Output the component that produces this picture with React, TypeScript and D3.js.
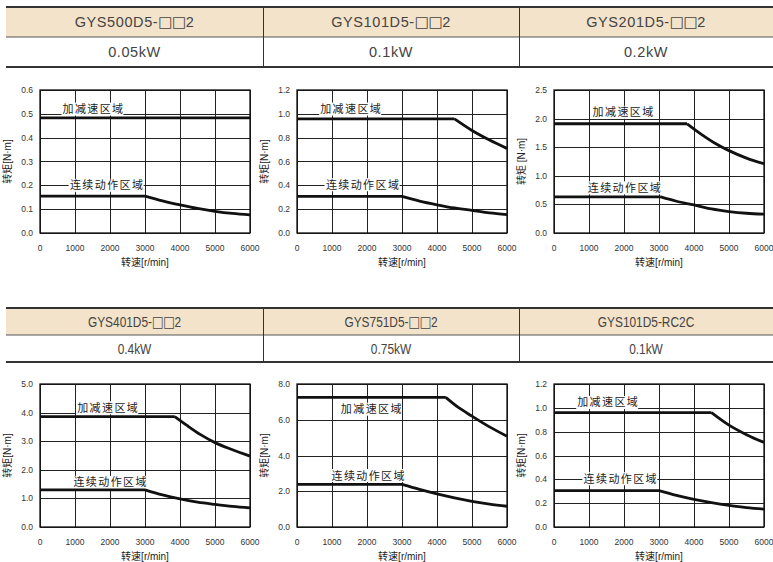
import React from "react";
import * as d3 from "d3";

// header texts
const models = ["GYS500D5-□□2", "GYS101D5-□□2", "GYS201D5-□□2", "GYS401D5-□□2", "GYS751D5-□□2", "GYS101D5-RC2C"];
const powers = ["0.05kW", "0.1kW", "0.2kW", "0.4kW", "0.75kW", "0.1kW"];

// y axis range / tick step per chart
const yMaxes = [0.6, 1.2, 2.5, 5, 8, 1.2];
const ySteps = [0.1, 0.2, 0.5, 1, 2, 0.2];
const yUnits = ["[N·m]", "[N·m]", " [N·m]", "[N·m]", "[N·m]", "[N·m]"];
const xTicks = [0, 1000, 2000, 3000, 4000, 5000, 6000];

// [rpm, torque] — acceleration / deceleration zone
const accel = [
  [[0, 0.483], [6000, 0.483]],
  [[0, 0.957], [4500, 0.957], [5000, 0.86], [5500, 0.78], [6000, 0.71]],
  [[0, 1.91], [3800, 1.91], [4200, 1.73], [4600, 1.57], [5000, 1.44], [5500, 1.31], [6000, 1.21]],
  [[0, 3.86], [3850, 3.86], [4200, 3.55], [4600, 3.22], [5000, 2.95], [5500, 2.7], [6000, 2.48]],
  [[0, 7.25], [4250, 7.25], [4600, 6.7], [5000, 6.2], [5500, 5.6], [6000, 5.08]],
  [[0, 0.96], [4500, 0.96], [5000, 0.855], [5500, 0.775], [6000, 0.71]],
];

// [rpm, torque] — continuous operation zone
const cont = [
  [[0, 0.155], [3000, 0.155], [3500, 0.135], [4000, 0.118], [4500, 0.103], [5000, 0.091], [5500, 0.082], [6000, 0.076]],
  [[0, 0.307], [3000, 0.307], [3500, 0.268], [4000, 0.237], [4500, 0.21], [5000, 0.19], [5500, 0.168], [6000, 0.155]],
  [[0, 0.63], [3050, 0.63], [3500, 0.555], [4000, 0.49], [4500, 0.42], [5000, 0.375], [5500, 0.345], [6000, 0.33]],
  [[0, 1.3], [3000, 1.3], [3500, 1.12], [4000, 0.98], [4500, 0.87], [5000, 0.79], [5500, 0.72], [6000, 0.67]],
  [[0, 2.38], [3000, 2.38], [3500, 2.1], [4000, 1.85], [4500, 1.63], [5000, 1.44], [5500, 1.28], [6000, 1.16]],
  [[0, 0.305], [3000, 0.305], [3500, 0.265], [4000, 0.232], [4500, 0.205], [5000, 0.182], [5500, 0.163], [6000, 0.15]],
];

// label anchor [rpm, torque]
const accelLabelAt = [[1500, 0.52], [1520, 1.04], [1960, 2.11], [1920, 4.17], [2110, 6.59], [1520, 1.045]];
const contLabelAt = [[1890, 0.2], [1860, 0.405], [2000, 0.79], [1990, 1.56], [2020, 2.88], [1880, 0.405]];

const accelLabel = "加减速区域";
const contLabel = "连续动作区域";

const colX = [[40, 250], [297, 507], [554, 764]];
const rowY = [[90, 233], [384, 527]];
const headerTop = [7, 308];
const headerMid = [37, 335];
const headerBot = [67, 362];
const cellEdges = [6, 263, 519, 773];

const FONT = "'Liberation Sans', Arial, sans-serif";
const CJK = "'Noto Sans CJK SC', sans-serif";

const line = d3.line().x((d) => d[0]).y((d) => d[1]);

// text with □ drawn in DejaVu so the boxes are full size
const ModelText = ({ s }) => {
  const parts = s.split(/(□+)/);
  return (
    <>
      {parts.map((p, k) =>
        p.startsWith("□") ? (
          <tspan key={k} fontFamily="'DejaVu Sans'" fontSize={15} letterSpacing={-0.5}>
            {p}
          </tspan>
        ) : (
          <tspan key={k}>{p}</tspan>
        )
      )}
    </>
  );
};

const Chart = ({ i }) => {
  const [x0, x1] = colX[i % 3];
  const [y0, y1] = rowY[Math.floor(i / 3)];
  const x = d3.scaleLinear().domain([0, 6000]).range([x0, x1]);
  const y = d3.scaleLinear().domain([0, yMaxes[i]]).range([y1, y0]);
  const yTicks = d3.range(0, yMaxes[i] + ySteps[i] / 2, ySteps[i]);
  const fmt = d3.format(".1f");

  const curve = (pts) => {
    const p = pts.map((d) => [x(d[0]), y(d[1])]);
    // flat part straight, falling part smoothed
    const flat = line(p.slice(0, 2));
    const fall = p.length > 2 ? d3.line().curve(d3.curveMonotoneX)(p.slice(1)) : "";
    return flat + (fall ? fall : "");
  };

  const label = (text, at, w) => {
    const cx = x(at[0]);
    const cy = y(at[1]);
    return (
      <g>
        <rect x={cx - w / 2 - 1} y={cy - 6.5} width={w + 2} height={13} fill="#fff" />
        <text x={cx + 1} y={cy + 4} textAnchor="middle" fontSize={11} letterSpacing={1.4} fontFamily={CJK} fill="#222">
          {text}
        </text>
      </g>
    );
  };

  return (
    <g>
      {yTicks.map((t) => (
        <line key={"h" + t} x1={x0} x2={x1} y1={Math.round(y(t)) + 0.5} y2={Math.round(y(t)) + 0.5} stroke="#222" strokeWidth={1} />
      ))}
      {xTicks.map((t) => (
        <line key={"v" + t} x1={Math.round(x(t)) + 0.5} x2={Math.round(x(t)) + 0.5} y1={y0} y2={y1} stroke="#222" strokeWidth={1} />
      ))}
      {label(accelLabel, accelLabelAt[i], 60)}
      {label(contLabel, contLabelAt[i], 73)}
      <rect x={x0} y={y0} width={x1 - x0} height={y1 - y0} fill="none" stroke="#111" strokeWidth={1.3} />
      <path d={curve(accel[i])} fill="none" stroke="#111" strokeWidth={2.8} />
      <path d={curve(cont[i])} fill="none" stroke="#111" strokeWidth={2.8} />
      {yTicks.map((t) => (
        <text key={"yl" + t} x={x0 - 7} y={y(t) + 3} textAnchor="end" fontSize={8.5} fontFamily={FONT} fill="#333">
          {fmt(t)}
        </text>
      ))}
      {xTicks.map((t) => (
        <text key={"xl" + t} x={x(t)} y={y1 + 18} textAnchor="middle" fontSize={8.5} fontFamily={FONT} fill="#333">
          {t}
        </text>
      ))}
      <text x={(x0 + x1) / 2} y={y1 + 33} textAnchor="middle" fontSize={10} fill="#222">
        <tspan fontFamily={CJK}>转速</tspan>
        <tspan fontFamily={FONT}>[r/min]</tspan>
      </text>
      <text
        transform={`translate(${x0 - 29},${(y0 + y1) / 2}) rotate(-90)`}
        textAnchor="middle"
        fontSize={10}
        fill="#222"
      >
        <tspan fontFamily={CJK}>转矩</tspan>
        <tspan fontFamily={FONT}>{yUnits[i]}</tspan>
      </text>
    </g>
  );
};

const Header = ({ r }) => {
  const top = headerTop[r];
  const mid = headerMid[r];
  const bot = headerBot[r];
  const sx = r === 1 ? 0.82 : 1;
  return (
    <g>
      <rect x={cellEdges[0]} y={top} width={cellEdges[3] - cellEdges[0]} height={mid - top} fill="#f3e3ca" />
      <line x1={cellEdges[0]} x2={cellEdges[3]} y1={top} y2={top} stroke="#333" strokeWidth={2} />
      <line x1={cellEdges[0]} x2={cellEdges[3]} y1={mid} y2={mid} stroke="#555" strokeWidth={1} />
      <line x1={cellEdges[0]} x2={cellEdges[3]} y1={bot} y2={bot} stroke="#333" strokeWidth={2} />
      {[1, 2].map((k) => (
        <line key={k} x1={cellEdges[k] + 0.5} x2={cellEdges[k] + 0.5} y1={top} y2={bot} stroke="#333" strokeWidth={1} />
      ))}
      {[0, 1, 2].map((c) => {
        const cx = (cellEdges[c] + cellEdges[c + 1]) / 2;
        const idx = r * 3 + c;
        return (
          <g key={c} fontFamily={FONT} fill="#444" fontSize={14.5} letterSpacing={r === 1 ? 0 : 0.6}>
            <text transform={`translate(${cx},${(top + mid) / 2 + 5}) scale(${sx},1)`} textAnchor="middle">
              <ModelText s={models[idx]} />
            </text>
            <text transform={`translate(${cx},${(mid + bot) / 2 + 5}) scale(${sx},1)`} textAnchor="middle">
              {powers[idx]}
            </text>
          </g>
        );
      })}
    </g>
  );
};

export default function App() {
  return (
    <svg width={773} height={562} style={{ position: "absolute", left: 0, top: 0, background: "#fff" }}>
      <Header r={0} />
      <Header r={1} />
      {[0, 1, 2, 3, 4, 5].map((i) => (
        <Chart key={i} i={i} />
      ))}
    </svg>
  );
}
